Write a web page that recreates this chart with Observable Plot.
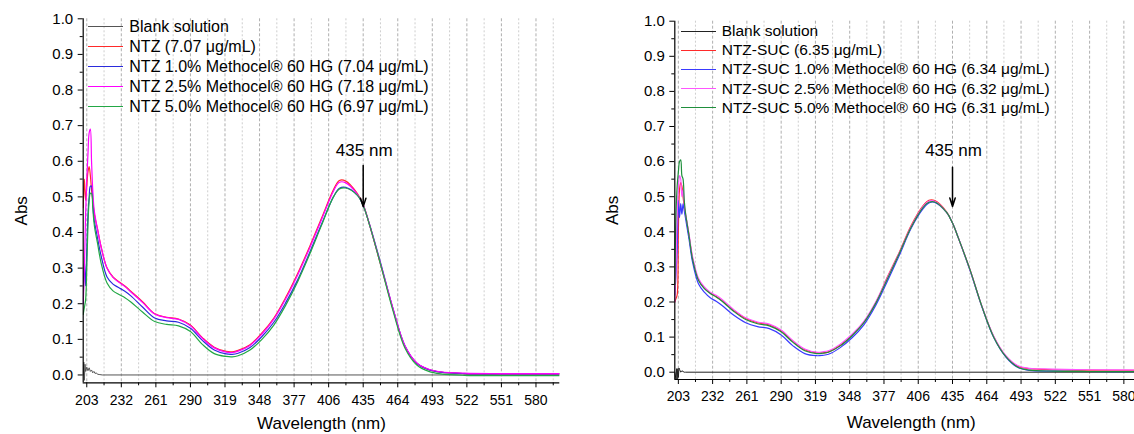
<!DOCTYPE html>
<html><head><meta charset="utf-8">
<script src="https://cdn.jsdelivr.net/npm/d3@7"></script>
<script src="https://cdn.jsdelivr.net/npm/@observablehq/plot@0.6"></script>
<style>
body{margin:0;width:1134px;height:434px;overflow:hidden;background:#fff;font-family:"Liberation Sans",Arial,sans-serif;}
.panel{position:absolute;top:0;height:434px;}
.row{position:absolute;display:flex;align-items:center;height:20px;white-space:nowrap;color:#000;}
.sw{width:35px;height:0;border-top:1px solid;margin-right:6px;}
</style></head><body>
<div id="left" class="panel" style="left:0;width:567px"></div>
<div id="right" class="panel" style="left:567px;width:580px"></div>
<script>
// ---------- data ----------
const wavelengths = [200,201,202,203,204,205,206,207,208,209,210,212,215,220,225,230,235,240,250,260,270,280,290,300,310,320,325,330,340,350,360,370,380,390,400,410,415,420,430,435,440,450,460,470,480,490,500,520,550,600];

// Left panel: NTZ
const ntzNames = ["Blank solution","NTZ (7.07 μg/mL)","NTZ 1.0% Methocel® 60 HG (7.04 μg/mL)","NTZ 2.5% Methocel® 60 HG (7.18 μg/mL)","NTZ 5.0% Methocel® 60 HG (6.97 μg/mL)"];
const ntz = [0.47,0.55,0.49,0.53,0.57,0.585,0.56,0.52,0.49,0.46,0.44,0.41,0.36,0.30,0.275,0.262,0.25,0.235,0.205,0.172,0.162,0.157,0.14,0.105,0.078,0.066,0.065,0.069,0.085,0.118,0.16,0.218,0.285,0.36,0.44,0.52,0.546,0.545,0.51,0.478,0.425,0.305,0.185,0.08,0.033,0.015,0.008,0.004,0.003,0.003];
const ntz10 = [0.20,0.32,0.25,0.35,0.45,0.50,0.53,0.53,0.49,0.44,0.42,0.385,0.335,0.275,0.255,0.245,0.235,0.222,0.19,0.16,0.152,0.148,0.131,0.097,0.07,0.059,0.058,0.061,0.077,0.108,0.148,0.203,0.267,0.343,0.423,0.50,0.524,0.527,0.505,0.476,0.426,0.31,0.186,0.082,0.033,0.015,0.008,0.004,0.003,0.003];
const ntz25 = [0.20,0.30,0.45,0.55,0.62,0.68,0.69,0.60,0.52,0.47,0.445,0.41,0.36,0.30,0.274,0.26,0.248,0.233,0.203,0.171,0.161,0.156,0.138,0.103,0.076,0.064,0.063,0.067,0.083,0.115,0.157,0.214,0.281,0.356,0.436,0.516,0.541,0.54,0.508,0.478,0.426,0.307,0.187,0.082,0.034,0.016,0.009,0.005,0.004,0.004];
const ntz50 = [0.17,0.19,0.21,0.30,0.42,0.49,0.51,0.51,0.47,0.43,0.405,0.37,0.315,0.258,0.236,0.226,0.217,0.205,0.176,0.15,0.142,0.138,0.122,0.086,0.06,0.052,0.051,0.054,0.07,0.10,0.14,0.196,0.262,0.338,0.42,0.50,0.522,0.525,0.505,0.476,0.425,0.305,0.18,0.076,0.028,0.01,0.003,-0.001,-0.002,-0.002];
const ntzBlankW = [200,200.5,201,201.5,202,203,204,205,206,207,208,209,210,211,212,214,216,220,600];
const ntzBlank = [0.0,0.036,-0.015,0.03,0.01,0.022,0.012,0.02,0.01,0.014,0.006,0.01,0.004,0.006,0.002,0.001,0,0,0];

// Right panel: NTZ-SUC
const sucNames = ["Blank solution","NTZ-SUC (6.35 μg/mL)","NTZ-SUC 1.0% Methocel® 60 HG (6.34 μg/mL)","NTZ-SUC 2.5% Methocel® 60 HG (6.32 μg/mL)","NTZ-SUC 5.0% Methocel® 60 HG (6.31 μg/mL)"];
const suc = [0.20,0.21,0.22,0.40,0.52,0.54,0.53,0.50,0.47,0.45,0.43,0.39,0.325,0.264,0.24,0.226,0.216,0.204,0.176,0.153,0.141,0.135,0.118,0.088,0.064,0.055,0.055,0.058,0.077,0.105,0.143,0.198,0.272,0.342,0.418,0.474,0.49,0.489,0.457,0.425,0.382,0.29,0.186,0.1,0.046,0.017,0.01,0.007,0.006,0.005];
const suc10 = [0.22,0.28,0.35,0.49,0.44,0.48,0.45,0.48,0.46,0.44,0.42,0.38,0.314,0.252,0.228,0.212,0.202,0.19,0.162,0.141,0.13,0.124,0.106,0.075,0.053,0.047,0.048,0.051,0.07,0.098,0.135,0.19,0.26,0.333,0.41,0.465,0.482,0.484,0.455,0.425,0.382,0.288,0.185,0.098,0.044,0.014,0.005,0.003,0.002,0.002];
const suc25 = [0.20,0.30,0.45,0.52,0.56,0.55,0.50,0.52,0.48,0.455,0.435,0.395,0.33,0.268,0.243,0.228,0.219,0.207,0.178,0.155,0.143,0.137,0.12,0.09,0.066,0.057,0.058,0.061,0.08,0.108,0.145,0.2,0.27,0.34,0.415,0.472,0.487,0.487,0.455,0.425,0.382,0.29,0.187,0.102,0.048,0.019,0.011,0.009,0.007,0.006];
const suc50 = [0.25,0.45,0.53,0.57,0.60,0.605,0.56,0.55,0.49,0.455,0.432,0.39,0.322,0.262,0.238,0.224,0.214,0.202,0.173,0.15,0.138,0.132,0.115,0.085,0.061,0.053,0.054,0.057,0.075,0.104,0.141,0.196,0.266,0.338,0.413,0.469,0.484,0.485,0.455,0.425,0.382,0.29,0.186,0.099,0.045,0.015,0.006,0.003,0.002,0.002];
const sucBlankW = [200,201,201.5,202,202.5,203,203.5,204,205,206,207,208,209,600];
const sucBlank = [0,-0.02,0.01,-0.02,0.01,-0.015,0.012,0.008,0,0.004,0.002,0,0,0];

// ticks & annotation
const xTicks = [203,232,261,290,319,348,377,406,435,464,493,522,551,580];
const yTicks = [0,0.1,0.2,0.3,0.4,0.5,0.6,0.7,0.8,0.9,1.0];
const peakLabel = "435 nm";
const ntzArrow = [{x:435, top:0.588, tip:0.472, label:0.63}];
const sucArrow = [{x:435, top:0.584, tip:0.472, label:0.632}];

// ---------- styles ----------
const ntzColors = ["#555555","#ff2a2a","#2b2bdc","#ff00ff","#22a845"];
const sucColors = ["#222222","#ff2a2a","#3a3aff","#ff55ff","#1f8f3c"];
const FONT = '"Liberation Sans", Arial, sans-serif';

const minorX = xTicks.map(t => t + 14.5).filter(t => t <= 600);
const minorY = yTicks.slice(0, -1).map(t => t + 0.05);

function panel(el, cfg) {
  const {width, mt, mb, ml, mr, yMin, names, colors, series, blankW, blank, arrow, legendTop, legendStep, legendLeft, legendFont, labelDy} = cfg;
  const marks = [
    Plot.ruleX(minorX, {stroke:"#c8c8c8", strokeDasharray:"2,2", strokeWidth:0.9}),
    Plot.ruleX(xTicks, {stroke:"#a6a6a6", strokeDasharray:"3,2", strokeWidth:0.9}),
    Plot.line(blankW.map((w,i)=>({w, a: blank[i]})), {x:"w", y:"a", stroke: colors[0], strokeWidth:1, clip:true})
  ];
  series.forEach((vals, k) => {
    marks.push(Plot.line(wavelengths.map((w,i)=>({w, a: vals[i]})), {x:"w", y:"a", stroke: colors[k+1], strokeWidth:1.2, curve:"catmull-rom", clip:true}));
  });
  marks.push(
    Plot.ruleX([200], {stroke:"black", strokeWidth:1.2}),
    Plot.ruleY([yMin], {stroke:"black", strokeWidth:1.2}),
    Plot.axisX(xTicks, {tickSize:5, tickPadding:7, fontSize:14, label:null}),
    Plot.axisX(minorX, {tickSize:3, tickFormat:()=>"", label:null}),
    Plot.axisY(yTicks, {tickSize:5, tickPadding:5, fontSize:15, tickFormat:d3.format(".1f"), label:null}),
    Plot.axisY(minorY, {tickSize:3, tickFormat:()=>"", label:null}),
    Plot.text(["Wavelength (nm)"], {frameAnchor:"bottom", textAnchor:"middle", lineAnchor:"middle", dy:labelDy, fontSize:17}),
    Plot.text(["Abs"], {frameAnchor:"left", textAnchor:"middle", lineAnchor:"middle", rotate:-90, dx:-62, dy:10, fontSize:17}),
    Plot.arrow(arrow, {x1:"x", x2:"x", y1:"top", y2:"tip", stroke:"black", strokeWidth:1.5, headLength:9, headAngle:35}),
    Plot.text(arrow, {x:"x", y:"label", text:()=>peakLabel, fontSize:17, dx:1})
  );
  const svg = Plot.plot({
    width, height:434, marginTop:mt, marginBottom:mb, marginLeft:ml, marginRight:mr,
    style:{fontFamily:FONT, color:"black", background:"white", overflow:"visible"},
    x:{domain:[200,600]}, y:{domain:[yMin,1]},
    marks
  });
  el.appendChild(svg);
  names.forEach((n, k) => {
    const row = document.createElement("div");
    row.className = "row";
    row.style.left = legendLeft + "px";
    row.style.top = (legendTop + k*legendStep - 10) + "px";
    row.style.fontSize = legendFont + "px";
    const sw = document.createElement("span");
    sw.className = "sw";
    sw.style.borderTopColor = colors[k];
    const t = document.createElement("span");
    t.textContent = n;
    row.appendChild(sw); row.appendChild(t);
    el.appendChild(row);
  });
}

panel(document.getElementById("left"), {
  width:567, mt:18.3, mb:51.7, ml:82.7, mr:7.7, yMin:-0.022,
  names:ntzNames, colors:ntzColors, series:[ntz, ntz10, ntz25, ntz50],
  blankW:ntzBlankW, blank:ntzBlank, arrow:ntzArrow,
  legendTop:26.7, legendStep:20, legendLeft:88.3, legendFont:16, labelDy:41
});
panel(document.getElementById("right"), {
  width:580, mt:20.7, mb:55, ml:107.3, mr:0, yMin:-0.0208,
  names:sucNames, colors:sucColors, series:[suc, suc10, suc25, suc50],
  blankW:sucBlankW, blank:sucBlank, arrow:sucArrow,
  legendTop:31, legendStep:19.2, legendLeft:113.7, legendFont:15.5, labelDy:43
});
</script>
</body></html>
